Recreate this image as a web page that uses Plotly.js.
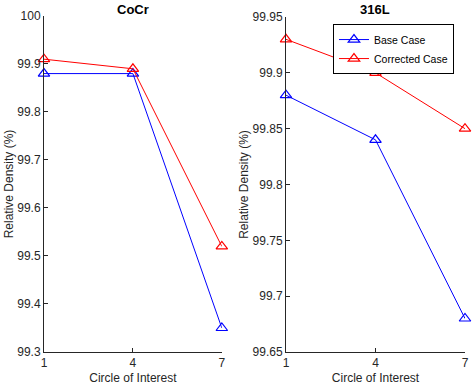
<!DOCTYPE html>
<html>
<head>
<meta charset="utf-8">
<script src="https://cdn.plot.ly/plotly-3.0.1.min.js"></script>
<style>html,body{margin:0;padding:0;background:#fff;}#chart{width:474px;height:388px;}</style>
</head>
<body>
<div id="chart"></div>
<script>
// Data
const circles = [1, 4, 7];
const cocrBase = [99.88, 99.88, 99.35];
const cocrCorrected = [99.91, 99.89, 99.52];
const l316Base = [99.88, 99.84, 99.68];
const l316Corrected = [99.93, 99.90, 99.85];
const xTickVals = [1, 4, 7];
const xTickText = ['1', '4', '7'];
const leftTickVals = [99.3, 99.4, 99.5, 99.6, 99.7, 99.8, 99.9, 100];
const leftTickText = ['99.3', '99.4', '99.5', '99.6', '99.7', '99.8', '99.9', '100'];
const rightTickVals = [99.65, 99.7, 99.75, 99.8, 99.85, 99.9, 99.95];
const rightTickText = ['99.65', '99.7', '99.75', '99.8', '99.85', '99.9', '99.95'];

const blue = '#0000ff';
const red = '#ff0000';
const axCol = '#262626';
const font = {family: 'Liberation Sans, Arial, sans-serif', size: 12, color: axCol};

function tr(x, y, name, color, xa, ya, show) {
  return {
    x: x, y: y, name: name, xaxis: xa, yaxis: ya, showlegend: show,
    type: 'scatter', mode: 'lines+markers', cliponaxis: false,
    line: {color: color, width: 1},
    marker: {symbol: 'triangle-up-open', size: 10, color: color, line: {width: 1.2, color: color}}
  };
}

const data = [
  tr(circles, cocrBase, 'Base Case', blue, 'x', 'y', false),
  tr(circles, cocrCorrected, 'Corrected Case', red, 'x', 'y', false),
  tr(circles, l316Base, 'Base Case', blue, 'x2', 'y2', true),
  tr(circles, l316Corrected, 'Corrected Case', red, 'x2', 'y2', true)
];

function xax(domain, anchor) {
  return {
    domain: domain, anchor: anchor, range: [1, 7], tickvals: xTickVals, ticktext: xTickText,
    showline: true, linecolor: axCol, linewidth: 1, ticks: 'inside', ticklen: 4, tickcolor: axCol,
    showgrid: false, zeroline: false, tickfont: font,
    title: {text: 'Circle of Interest', font: font, standoff: 4}
  };
}
function yax(domain, anchor, range, tv, tt) {
  return {
    domain: domain, anchor: anchor, range: range, tickvals: tv, ticktext: tt,
    showline: true, linecolor: axCol, linewidth: 1, ticks: 'inside', ticklen: 4, tickcolor: axCol,
    showgrid: false, zeroline: false, tickfont: font,
    title: {text: 'Relative Density (%)', font: font, standoff: 1}
  };
}

const layout = {
  width: 474, height: 388,
  margin: {l: 0, r: 0, t: 0, b: 0},
  paper_bgcolor: '#fff', plot_bgcolor: '#fff',
  font: font,
  xaxis: xax([0.0928, 0.468], 'y'),
  yaxis: yax([0.0928, 0.9588], 'x', [99.3, 100], leftTickVals, leftTickText),
  xaxis2: xax([0.6034, 0.981], 'y2'),
  yaxis2: yax([0.0928, 0.9562], 'x2', [99.65, 99.95], rightTickVals, rightTickText),
  legend: {
    x: 0.7025, y: 0.938, xanchor: 'left', yanchor: 'top',
    bgcolor: '#fff', bordercolor: '#000', borderwidth: 1,
    font: {family: 'Liberation Sans, Arial, sans-serif', size: 10.5, color: '#000'},
    tracegroupgap: 0, itemwidth: 30
  },
  annotations: [
    {text: '<b>CoCr</b>', xref: 'paper', yref: 'paper', x: 0.2804, y: 1 - 9/388, xanchor: 'center', yanchor: 'middle', showarrow: false, font: {family: 'Liberation Sans, Arial, sans-serif', size: 13, color: '#000'}},
    {text: '<b>316L</b>', xref: 'paper', yref: 'paper', x: 0.792, y: 1 - 9/388, xanchor: 'center', yanchor: 'middle', showarrow: false, font: {family: 'Liberation Sans, Arial, sans-serif', size: 13, color: '#000'}}
  ]
};

Plotly.newPlot('chart', data, layout, {displayModeBar: false, staticPlot: true});
</script>
</body>
</html>
